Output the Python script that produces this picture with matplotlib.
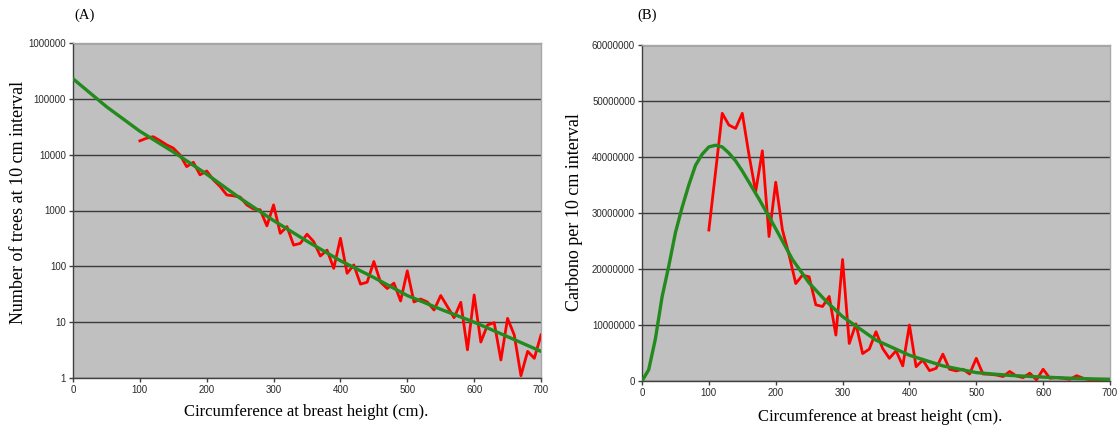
import matplotlib
matplotlib.use("Agg")
import matplotlib.pyplot as plt
import numpy as np
from matplotlib.ticker import FixedLocator, FixedFormatter, NullLocator

# ---------------- data ----------------
circ = list(range(100, 701, 10))

trees_obs = [17700, 19700, 21000, 17900, 15000, 13100, 9900, 6100, 7300, 4350,
             5100, 3530, 2690, 1900, 1830, 1740, 1260, 1060, 1030, 530,
             1260, 390, 515, 240, 258, 376, 277, 153, 195, 92,
             318, 75, 106, 48, 52, 122, 52, 40, 50, 24,
             83, 23, 26, 23, 16.5, 30, 19, 12, 22.7, 3.2,
             30.7, 4.4, 8.9, 9.8, 2.1, 11.7, 5.9, 1.1, 3.0, 2.25,
             5.9]

trees_fit_x = [0, 50, 100, 150, 200, 250, 300, 350, 400, 450, 500, 550, 600, 650, 700]
trees_fit = [229000, 72400, 26300, 11200, 4470, 1660, 661, 282, 126, 63,
             30, 17, 10, 5.5, 3.0]

carbon_obs = [26.96, 37.3, 47.8, 45.7, 45.1, 47.8, 40.4, 33.8, 41.1, 25.8,
              35.5, 27.0, 22.5, 17.4, 18.9, 18.6, 13.6, 13.3, 15.1, 8.2,
              21.7, 6.7, 10.2, 4.9, 5.7, 8.8, 5.8, 4.05, 5.4, 2.7,
              10.0, 2.55, 3.75, 1.85, 2.26, 4.8, 2.1, 1.8, 2.1, 1.25,
              4.05, 1.25, 1.2, 1.07, 0.8, 1.7, 0.9, 0.6, 1.4, 0.2,
              2.1, 0.5, 0.6, 0.5, 0.3, 0.95, 0.5, 0.2, 0.2, 0.3,
              0.3]  # millions

carbon_fit_x = [0, 10, 20, 30, 40, 50, 60, 70, 80, 90, 100, 110, 120, 130, 140,
                150, 175, 200, 225, 250, 275, 300, 350, 400, 450, 500, 550, 600,
                650, 700]
carbon_fit = [0, 2.0, 7.5, 15.0, 20.5, 26.5, 31.0, 35.0, 38.5, 40.5, 41.8, 42.1,
              41.8, 40.7, 39.3, 37.5, 32.5, 27.2, 21.7, 17.5, 14.3, 11.5, 7.3,
              4.6, 2.7, 1.5, 1.0, 0.7, 0.45, 0.3]  # millions

x_ticks = [0, 100, 200, 300, 400, 500, 600, 700]
yA_ticks = [1, 10, 100, 1000, 10000, 100000, 1000000]
yA_labels = ["1", "10", "100", "1000", "10000", "100000", "1000000"]
yB_ticks = [0, 10000000, 20000000, 30000000, 40000000, 50000000, 60000000]
yB_labels = ["0", "10000000", "20000000", "30000000", "40000000", "50000000", "60000000"]

# ---------------- style ----------------
RED = "#ff0000"
GREEN = "#238a1e"
BG = "#c0c0c0"
TICKFONT = "Liberation Sans"
LABFONT = "Liberation Serif"
TICKCOL = "#2a2a2a"

fig = plt.figure(figsize=(11.2, 4.3), dpi=100)
axA = fig.add_axes([73 / 1120, 1 - 378 / 430, (541 - 73) / 1120, (378 - 43) / 430])
axB = fig.add_axes([642 / 1120, 1 - 381 / 430, (1110 - 642) / 1120, (381 - 45) / 430])


def style(ax):
    ax.set_facecolor(BG)
    ax.set_xlim(0, 700)
    ax.xaxis.set_major_locator(FixedLocator(x_ticks))
    ax.set_xticklabels([str(t) for t in x_ticks], fontsize=7, family=TICKFONT, color=TICKCOL)
    ax.yaxis.grid(True, color="#3a3a3a", linewidth=1.0)
    ax.set_axisbelow(True)
    for s in ["left", "bottom"]:
        ax.spines[s].set_color("#404040")
        ax.spines[s].set_linewidth(1.0)
    for s in ["top", "right"]:
        ax.spines[s].set_color("#a8a8a8")
        ax.spines[s].set_linewidth(1.0)
    ax.tick_params(axis="both", direction="out", length=3, width=1, color="#404040", pad=2)
    ax.set_xlabel("Circumference at breast height (cm).", fontsize=12, family=LABFONT)
    ax.xaxis.label.set_va("center")
    ax.yaxis.label.set_va("center")


# Panel A
style(axA)
axA.set_yscale("log")
axA.set_ylim(1, 1000000)
axA.set_yticks(yA_ticks)
axA.set_yticklabels(yA_labels, fontsize=7, family=TICKFONT, color=TICKCOL)
axA.yaxis.set_minor_locator(NullLocator())
axA.plot(circ, trees_obs, color=RED, linewidth=2.0, zorder=3)
axA.plot(trees_fit_x, trees_fit, color=GREEN, linewidth=2.4, zorder=4)
axA.set_ylabel("Number of trees at 10 cm interval", fontsize=13, family=LABFONT)
axA.yaxis.label.set_va("center")
axA.xaxis.label.set_va("center")
axA.yaxis.set_label_coords(-0.1175, 0.525)
axA.xaxis.set_label_coords(0.498, -0.101)

# Panel B
style(axB)
axB.set_ylim(0, 60000000)
axB.set_yticks(yB_ticks)
axB.set_yticklabels(yB_labels, fontsize=7, family=TICKFONT, color=TICKCOL)
axB.plot(circ, [v * 1e6 for v in carbon_obs], color=RED, linewidth=2.0, zorder=3)
axB.plot(carbon_fit_x, [v * 1e6 for v in carbon_fit], color=GREEN, linewidth=2.4, zorder=4)
axB.set_ylabel("Carbono per 10 cm interval", fontsize=13, family=LABFONT)
axB.yaxis.label.set_va("center")
axB.xaxis.label.set_va("center")
axB.yaxis.set_label_coords(-0.145, 0.503)
axB.xaxis.set_label_coords(0.51, -0.107)

fig.text(85 / 1120, 1 - 15 / 430, "(A)", fontsize=10.5, family=LABFONT, ha="center", va="center")
fig.text(647 / 1120, 1 - 15 / 430, "(B)", fontsize=10.5, family=LABFONT, ha="center", va="center")

fig.savefig("out.png", dpi=100, facecolor="white")
